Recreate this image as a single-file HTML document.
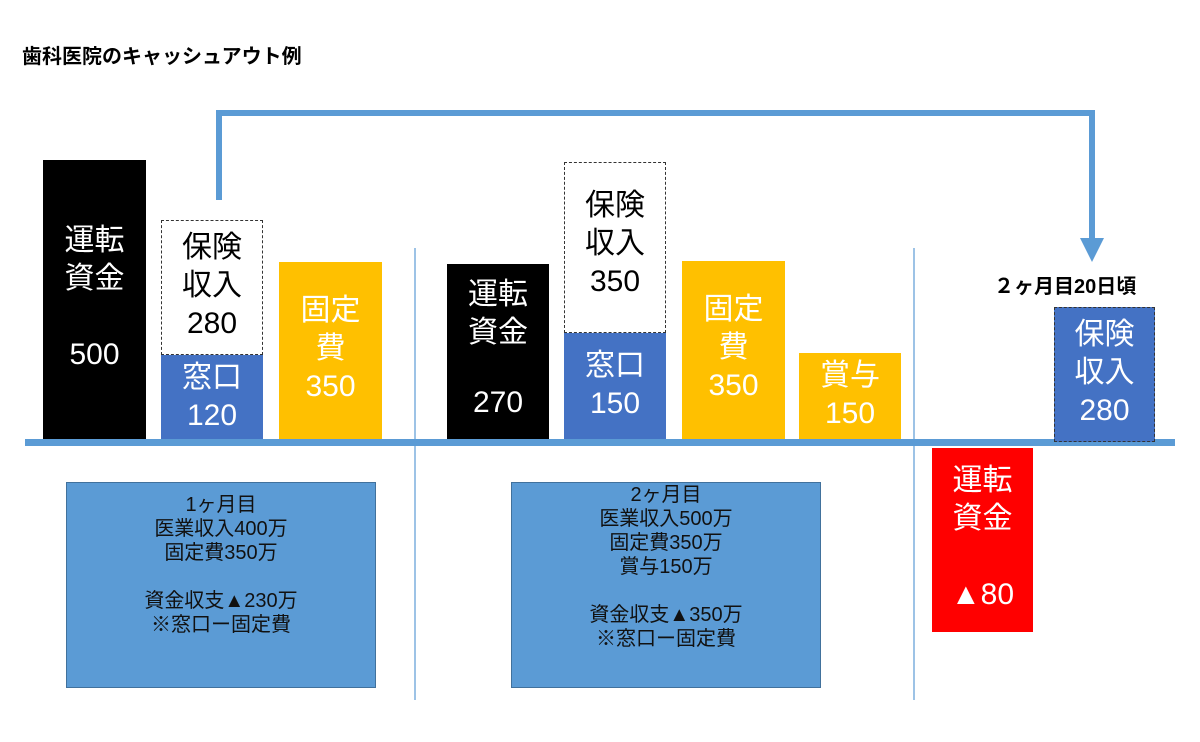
<!DOCTYPE html>
<html><head><meta charset="utf-8"><style>
body{margin:0;width:1200px;height:742px;background:#fff;position:relative;overflow:hidden;font-family:"Liberation Sans","Noto Sans CJK JP",sans-serif}
.a{position:absolute;box-sizing:border-box}
.bar{display:flex;flex-direction:column;align-items:center;color:#fff;font-size:30px;line-height:38px;text-align:center}
.dash{border:1.5px dashed #333;background:#fff;color:#000}
.info{background:#5b9bd5;border:1.5px solid #41719c;color:#111;font-size:20px;line-height:24px;text-align:center;padding-top:10px}
.vl{width:1.5px;background:#9dc3e6}
</style></head><body>
<div class="a" style="left:22px;top:40px;font-size:20px;font-weight:bold">歯科医院のキャッシュアウト例</div>

<svg class="a" style="left:0;top:0" width="1200" height="742">
<polyline points="219,200 219,113 1092,113 1092,240" fill="none" stroke="#5b9bd5" stroke-width="6"/>
<polygon points="1080,238 1104,238 1092,262" fill="#5b9bd5"/>
</svg>

<div class="a vl" style="left:414px;top:248px;height:452px"></div>
<div class="a vl" style="left:913px;top:248px;height:452px"></div>

<div class="a bar" style="left:43px;top:160px;width:103px;height:282px;background:#000;padding-top:62px">運転<br>資金<div style="margin-top:38px">500</div></div>
<div class="a bar dash" style="left:161px;top:220px;width:102px;height:135px;padding-top:8px">保険<br>収入<br>280</div>
<div class="a bar" style="left:161px;top:355px;width:102px;height:87px;background:#4472c4;padding-top:4px">窓口<br>120</div>
<div class="a bar" style="left:279px;top:262px;width:103px;height:180px;background:#ffc000;padding-top:30px">固定<br>費<br>350</div>

<div class="a bar" style="left:447px;top:264px;width:102px;height:178px;background:#000;padding-top:12px">運転<br>資金<div style="margin-top:32px">270</div></div>
<div class="a bar dash" style="left:564px;top:162px;width:102px;height:171px;padding-top:24px">保険<br>収入<br>350</div>
<div class="a bar" style="left:564px;top:333px;width:102px;height:109px;background:#4472c4;padding-top:14px">窓口<br>150</div>
<div class="a bar" style="left:682px;top:261px;width:103px;height:181px;background:#ffc000;padding-top:30px">固定<br>費<br>350</div>
<div class="a bar" style="left:799px;top:353px;width:102px;height:89px;background:#ffc000;padding-top:4px">賞与<br>150</div>

<div class="a" style="left:25px;top:439px;width:1150px;height:7px;background:#5b9bd5"></div>

<div class="a" style="left:994px;top:270px;font-size:20px;font-weight:bold">２ヶ月目20日頃</div>
<div class="a bar dash" style="left:1054px;top:307px;width:101px;height:135px;background:#4472c4;color:#fff;padding-top:8px">保険<br>収入<br>280</div>
<div class="a bar" style="left:932px;top:448px;width:101px;height:184px;background:#ff0000;padding-top:14px">運転<br>資金<div style="margin-top:38px">▲80</div></div>

<div class="a info" style="left:66px;top:482px;width:310px;height:206px">1ヶ月目<br>医業収入400万<br>固定費350万<br><br>資金収支▲230万<br>※窓口ー固定費</div>
<div class="a info" style="left:511px;top:482px;width:310px;height:206px;padding-top:0">2ヶ月目<br>医業収入500万<br>固定費350万<br>賞与150万<br><br>資金収支▲350万<br>※窓口ー固定費</div>
</body></html>
